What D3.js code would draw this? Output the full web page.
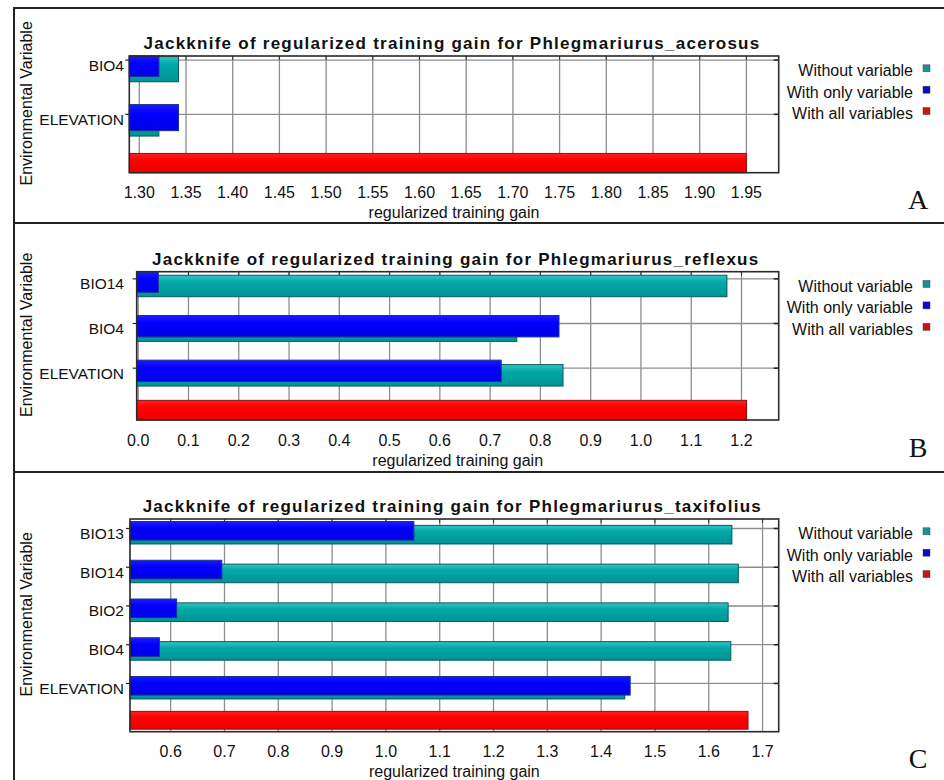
<!DOCTYPE html>
<html lang="en">
<head>
    <meta charset="UTF-8">
    <title>Jackknife of regularized training gain</title>
    <script src="https://cdnjs.cloudflare.com/ajax/libs/d3/7.8.5/d3.min.js"></script>
    <style>
        body { margin: 0; background: #fff; }
        svg text { font-family: "Liberation Sans", Arial, sans-serif; fill: #111; }
    </style>
</head>
<body>
    <div id="wrapper"></div>
    <script>
        // ---- data ----
        const speciesA = 'Phlegmariurus_acerosus'
        const varsA = ['BIO4', 'ELEVATION']
        const withoutA = [1.342, 1.321]
        const onlyA = [1.321, 1.342]
        const allA = 1.95
        const domainA = [1.2893, 1.9846]
        const ticksA = [1.30, 1.35, 1.40, 1.45, 1.50, 1.55, 1.60, 1.65, 1.70, 1.75, 1.80, 1.85, 1.90, 1.95]

        const speciesB = 'Phlegmariurus_reflexus'
        const varsB = ['BIO14', 'BIO4', 'ELEVATION']
        const withoutB = [1.171, 0.753, 0.845]
        const onlyB = [0.040, 0.837, 0.722]
        const allB = 1.210
        const domainB = [-0.003, 1.274]
        const ticksB = [0.0, 0.1, 0.2, 0.3, 0.4, 0.5, 0.6, 0.7, 0.8, 0.9, 1.0, 1.1, 1.2]

        const speciesC = 'Phlegmariurus_taxifolius'
        const varsC = ['BIO13', 'BIO14', 'BIO2', 'BIO4', 'ELEVATION']
        const withoutC = [1.643, 1.655, 1.636, 1.641, 1.444]
        const onlyC = [1.052, 0.695, 0.611, 0.579, 1.454]
        const allC = 1.673
        const domainC = [0.5244, 1.730]
        const ticksC = [0.6, 0.7, 0.8, 0.9, 1.0, 1.1, 1.2, 1.3, 1.4, 1.5, 1.6, 1.7]

        const legendLabels = ['Without variable', 'With only variable', 'With all variables']

        // ---- page ----
        const width = 944
        const height = 780

        const svg = d3.select('#wrapper')
            .append('svg')
                .attr('width', width)
                .attr('height', height)
                .attr('viewBox', `0 0 ${width} ${height}`)

        const defs = svg.append('defs')
        const addGradient = (id, top, mid, bottom) => {
            const g = defs.append('linearGradient')
                .attr('id', id)
                .attr('x1', 0).attr('y1', 0).attr('x2', 0).attr('y2', 1)
            g.append('stop').attr('offset', '0%').attr('stop-color', top)
            g.append('stop').attr('offset', '35%').attr('stop-color', mid)
            g.append('stop').attr('offset', '100%').attr('stop-color', bottom)
        }
        addGradient('gTeal', '#33c4c4', '#00a7a7', '#009494')
        addGradient('gBlue', '#1c1cff', '#0000ff', '#0000e6')
        addGradient('gRed', '#ff2020', '#ff0000', '#ee0000')

        const barStyle = {
            without: { fill: 'url(#gTeal)', stroke: '#0b5a5a' },
            only: { fill: 'url(#gBlue)', stroke: '#1d2f9a' },
            all: { fill: 'url(#gRed)', stroke: '#8a1010' },
        }
        const legendColors = ['#129494', '#0a0ac8', '#c81414']

        const drawPanel = (cfg) => {
            const { species, vars, without, only, all, domain, ticks, fmt, box, plot, pad, letter } = cfg

            // frame of the panel
            svg.append('rect')
                .attr('x', box.left)
                .attr('y', box.top)
                .attr('width', box.right - box.left)
                .attr('height', box.bottom - box.top)
                .attr('fill', 'none')
                .attr('stroke', '#222')
                .attr('stroke-width', 2)

            const xScale = d3.scaleLinear()
                .domain(domain)
                .range([plot.left, plot.right])

            const rows = [...vars, '__all']
            const yScale = d3.scalePoint()
                .domain(rows)
                .range([plot.top, plot.bottom])
                .padding(pad)
            const step = yScale.step()
            const clampY = y => Math.max(plot.top, Math.min(plot.bottom, y))

            const g = svg.append('g')

            // plot background
            g.append('rect')
                .attr('x', plot.left).attr('y', plot.top)
                .attr('width', plot.right - plot.left)
                .attr('height', plot.bottom - plot.top)
                .attr('fill', '#fff')

            // grid
            g.append('g').selectAll('line')
                .data(ticks)
                .join('line')
                    .attr('x1', d => xScale(d)).attr('x2', d => xScale(d))
                    .attr('y1', plot.top).attr('y2', plot.bottom)
                    .attr('stroke', '#8e8e8e')
                    .attr('stroke-width', 1.3)
            g.append('g').selectAll('line')
                .data(vars)
                .join('line')
                    .attr('x1', plot.left).attr('x2', plot.right)
                    .attr('y1', d => yScale(d)).attr('y2', d => yScale(d))
                    .attr('stroke', '#8e8e8e')
                    .attr('stroke-width', 1.3)

            // short ticks on top edge and right edge
            g.append('g').selectAll('line')
                .data(ticks)
                .join('line')
                    .attr('x1', d => xScale(d)).attr('x2', d => xScale(d))
                    .attr('y1', plot.top).attr('y2', plot.top + 4)
                    .attr('stroke', '#333')
            g.append('g').selectAll('line')
                .data(vars)
                .join('line')
                    .attr('x1', plot.right - 5).attr('x2', plot.right)
                    .attr('y1', d => yScale(d)).attr('y2', d => yScale(d))
                    .attr('stroke', '#222')
                    .attr('stroke-width', 1.5)
            g.append('g').selectAll('line')
                .data(vars)
                .join('line')
                    .attr('x1', plot.left - 4).attr('x2', plot.left)
                    .attr('y1', d => yScale(d)).attr('y2', d => yScale(d))
                    .attr('stroke', '#222')
                    .attr('stroke-width', 1.2)

            const x0 = xScale(domain[0])
            const rowData = vars.map((v, i) => ({ v, without: without[i], only: only[i] }))

            // without variable (teal), drawn behind
            g.append('g').selectAll('rect')
                .data(rowData)
                .join('rect')
                    .attr('x', x0)
                    .attr('y', d => clampY(yScale(d.v) - 0.08 * step))
                    .attr('width', d => xScale(d.without) - x0)
                    .attr('height', d => clampY(yScale(d.v) + 0.40 * step) - clampY(yScale(d.v) - 0.08 * step))
                    .attr('fill', barStyle.without.fill)
                    .attr('stroke', barStyle.without.stroke)
                    .attr('stroke-width', 1)

            // with only variable (blue)
            g.append('g').selectAll('rect')
                .data(rowData)
                .join('rect')
                    .attr('x', x0)
                    .attr('y', d => clampY(yScale(d.v) - 0.18 * step))
                    .attr('width', d => xScale(d.only) - x0)
                    .attr('height', d => clampY(yScale(d.v) + 0.30 * step) - clampY(yScale(d.v) - 0.18 * step))
                    .attr('fill', barStyle.only.fill)
                    .attr('stroke', barStyle.only.stroke)
                    .attr('stroke-width', 1)

            // with all variables (red)
            const yAll = yScale('__all')
            g.append('rect')
                .attr('x', x0)
                .attr('y', clampY(yAll - 0.28 * step))
                .attr('width', xScale(all) - x0)
                .attr('height', clampY(yAll + 0.18 * step) - clampY(yAll - 0.28 * step))
                .attr('fill', barStyle.all.fill)
                .attr('stroke', barStyle.all.stroke)
                .attr('stroke-width', 1)

            // plot border
            g.append('rect')
                .attr('x', plot.left).attr('y', plot.top)
                .attr('width', plot.right - plot.left)
                .attr('height', plot.bottom - plot.top)
                .attr('fill', 'none')
                .attr('stroke', '#2a2a2a')
                .attr('stroke-width', 1.6)

            // x tick labels
            g.append('g').selectAll('text')
                .data(ticks)
                .join('text')
                    .attr('x', d => xScale(d))
                    .attr('y', plot.bottom + 25.5)
                    .attr('text-anchor', 'middle')
                    .style('font-size', '16px')
                    .text(d => d3.format(fmt)(d))

            // x title
            g.append('text')
                .attr('x', (plot.left + plot.right) / 2)
                .attr('y', plot.bottom + 45.5)
                .attr('text-anchor', 'middle')
                .style('font-size', '16px')
                .text('regularized training gain')

            // category labels (right edge is the same in every panel)
            g.append('g').selectAll('text')
                .data(vars)
                .join('text')
                    .attr('x', 124)
                    .attr('y', d => yScale(d) + 10.5)
                    .attr('text-anchor', 'end')
                    .style('font-size', '15.5px')
                    .text(d => d)

            // y title
            const yMid = (plot.top + plot.bottom) / 2 - 11
            g.append('text')
                .attr('transform', `translate(32, ${yMid}) rotate(-90)`)
                .attr('text-anchor', 'middle')
                .style('font-size', '16px')
                .text('Environmental Variable')

            // chart title
            g.append('text')
                .attr('x', (plot.left + plot.right) / 2 - 2)
                .attr('y', plot.top - 7)
                .attr('text-anchor', 'middle')
                .style('font-size', '17px')
                .style('font-weight', 'bold')
                .style('letter-spacing', '1.25px')
                .text(`Jackknife of regularized training gain for ${species}`)

            // legend
            const legend = g.append('g')
            legendLabels.forEach((label, i) => {
                const ly = plot.top + 14.3 + i * 21.4
                legend.append('text')
                    .attr('x', 913)
                    .attr('y', ly + 5.8)
                    .attr('text-anchor', 'end')
                    .style('font-size', '16px')
                    .text(label)
                legend.append('rect')
                    .attr('x', 923)
                    .attr('y', ly - 5.5)
                    .attr('width', 7)
                    .attr('height', 7)
                    .attr('fill', legendColors[i])
                    .attr('stroke', '#444')
                    .attr('stroke-width', 0.5)
            })

            // panel letter
            g.append('text')
                .attr('x', 918)
                .attr('y', plot.bottom + 36.5)
                .attr('text-anchor', 'middle')
                .style('font-family', '"Liberation Serif", "Times New Roman", serif')
                .style('font-size', '28px')
                .text(letter)
        }

        drawPanel({
            species: speciesA, vars: varsA, without: withoutA, only: onlyA, all: allA,
            domain: domainA, ticks: ticksA, fmt: '.2f',
            box: { left: 14, right: 960, top: 8, bottom: 223 },
            plot: { left: 129.3, right: 778.7, top: 56, bottom: 172.7 },
            pad: 0.075, letter: 'A'
        })
        drawPanel({
            species: speciesB, vars: varsB, without: withoutB, only: onlyB, all: allB,
            domain: domainB, ticks: ticksB, fmt: '.1f',
            box: { left: 14, right: 960, top: 223, bottom: 472 },
            plot: { left: 136.7, right: 778.7, top: 271.7, bottom: 420 },
            pad: 0.16, letter: 'B'
        })
        drawPanel({
            species: speciesC, vars: varsC, without: withoutC, only: onlyC, all: allC,
            domain: domainC, ticks: ticksC, fmt: '.1f',
            box: { left: 14, right: 960, top: 472, bottom: 800 },
            plot: { left: 130, right: 778.7, top: 519, bottom: 731.7 },
            pad: 0.245, letter: 'C'
        })
    </script>
</body>
</html>
